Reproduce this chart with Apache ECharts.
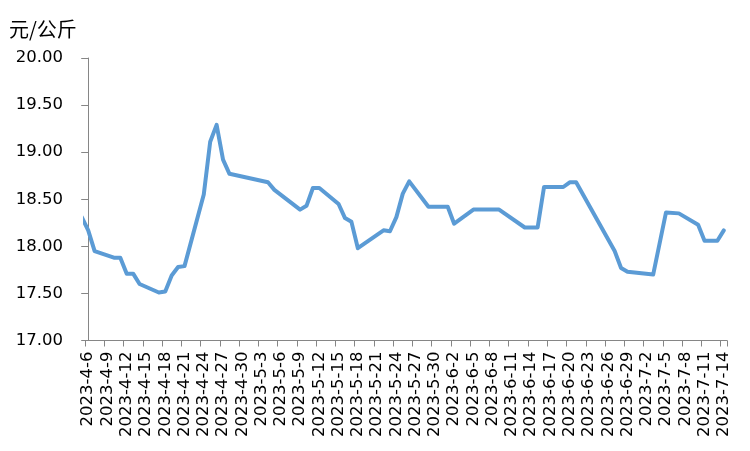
<!DOCTYPE html>
<html>
<head>
<meta charset="utf-8">
<script src="https://cdn.jsdelivr.net/npm/echarts@6/dist/echarts.min.js"></script>
<style>html,body{margin:0;padding:0;background:#fff}#c{width:750px;height:451px}</style>
</head>
<body>
<div id="c"></div>
<script>
// Axis range (category days shown on the x axis)
const axisStart = '2023-4-6';
const axisEnd = '2023-7-14';
const unitLabel = '元/公斤';

// Observed dates and prices (元/公斤)
const dates = [
  '2023-4-5','2023-4-6','2023-4-7','2023-4-10','2023-4-11','2023-4-12','2023-4-13','2023-4-14',
  '2023-4-17','2023-4-18','2023-4-19','2023-4-20','2023-4-21','2023-4-24','2023-4-25','2023-4-26',
  '2023-4-27','2023-4-28','2023-5-4','2023-5-5','2023-5-9','2023-5-10','2023-5-11','2023-5-12',
  '2023-5-15','2023-5-16','2023-5-17','2023-5-18','2023-5-22','2023-5-23','2023-5-24','2023-5-25',
  '2023-5-26','2023-5-29','2023-6-1','2023-6-2','2023-6-5','2023-6-9','2023-6-13','2023-6-15',
  '2023-6-16','2023-6-19','2023-6-20','2023-6-21','2023-6-27','2023-6-28','2023-6-29','2023-7-3',
  '2023-7-5','2023-7-7','2023-7-10','2023-7-11','2023-7-13','2023-7-14'
];
const prices = [
  18.31,18.17,17.95,17.88,17.88,17.71,17.71,17.60,
  17.51,17.52,17.69,17.78,17.79,18.55,19.11,19.29,
  18.92,18.77,18.68,18.60,18.39,18.43,18.62,18.62,
  18.45,18.30,18.26,17.98,18.17,18.16,18.31,18.56,
  18.69,18.42,18.42,18.24,18.39,18.39,18.20,18.20,
  18.63,18.63,18.68,18.68,17.95,17.77,17.73,17.70,
  18.36,18.35,18.23,18.06,18.06,18.17
];

// Y axis
const yMin = 17, yMax = 20, yStep = 0.5;

function toUTC(s){const p=s.split('-').map(Number);return Date.UTC(p[0],p[1]-1,p[2]);}
const DAY = 86400000;
const t0 = toUTC(axisStart);
const nDays = Math.round((toUTC(axisEnd)-t0)/DAY)+1;
const categories = [];
for(let i=0;i<nDays;i++){const d=new Date(t0+i*DAY);categories.push(d.getUTCFullYear()+'-'+(d.getUTCMonth()+1)+'-'+d.getUTCDate());}
const seriesData = dates.map((s,i)=>[Math.round((toUTC(s)-t0)/DAY), prices[i]]);

const FONT = 'DejaVu Sans';
const axisColor = '#868686';
const chart = echarts.init(document.getElementById('c'), null, {renderer:'canvas'});
chart.setOption({
  animation:false,
  backgroundColor:'#ffffff',
  title:{text:unitLabel,left:9,top:19,padding:0,textStyle:{fontFamily:'Noto Sans CJK SC',fontSize:20,fontWeight:'normal',color:'#000'}},
  grid:{left:85,right:23,top:58,bottom:110.5,containLabel:false},
  xAxis:[{
    type:'category',data:categories,boundaryGap:true,
    axisLine:{lineStyle:{color:axisColor,width:1}},
    axisTick:{show:true,interval:2,length:6,lineStyle:{color:axisColor}},
    axisLabel:{interval:2,rotate:90,margin:11,fontFamily:FONT,fontSize:16.5,color:'#000'},
    splitLine:{show:false}
  },{
    type:'value',min:-0.5,max:nDays-0.5,show:false,
    axisLine:{show:false},axisTick:{show:false},axisLabel:{show:false},splitLine:{show:false}
  }],
  yAxis:{
    type:'value',min:yMin,max:yMax,interval:yStep,
    axisLine:{show:true,lineStyle:{color:axisColor,width:1}},
    axisTick:{show:true,length:7,lineStyle:{color:axisColor}},
    axisLabel:{margin:22,fontFamily:FONT,fontSize:16.5,color:'#000',formatter:v=>v.toFixed(2)},
    splitLine:{show:false}
  },
  series:[{
    type:'line',xAxisIndex:1,data:seriesData,clip:true,
    symbol:'none',smooth:false,
    lineStyle:{color:'#5B9BD5',width:4,join:'round',cap:'round'}
  }]
});
</script>
</body>
</html>
